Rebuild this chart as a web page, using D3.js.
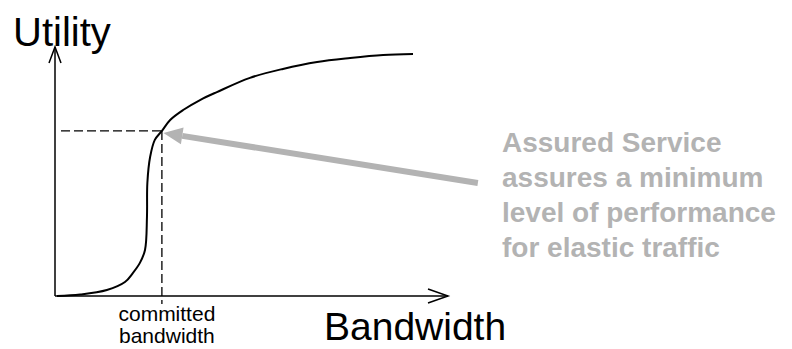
<!DOCTYPE html>
<html><head><meta charset="utf-8">
<script src="https://cdn.jsdelivr.net/npm/d3@7"></script>
<style>body{margin:0;background:#fff}svg{display:block;font-family:"Liberation Sans",Arial,sans-serif}</style>
</head><body><svg id="c" width="792" height="349"></svg>
<script>
// Utility curve (bandwidth, utility) in arbitrary units 0..100
const bandwidth = [0.5, 6.4, 13.2, 17.8, 19.8, 21.6, 22.9, 23.4, 23.5, 24.2, 25.4, 27.2, 29.3, 32.6, 36.9, 41.2, 49.6, 58.0, 66.7, 75.1, 83.5, 91.1];
const utility   = [0, 0.6, 2.4, 5.6, 9.2, 13.3, 18.5, 31.7, 45.4, 55.8, 62.7, 66.3, 70.7, 74.7, 78.7, 81.9, 87.6, 91.2, 94.0, 95.6, 96.8, 97.2];
const committed = {bandwidth: 27.2, utility: 66.3};
const arrowFrom = {bandwidth: 107.6, utility: 45.4};
const arrowTo   = {bandwidth: 27.6, utility: 65.5};
const noteLines = ["Assured Service", "assures a minimum", "level of performance", "for elastic traffic"];
const axisLabels = {x: "Bandwidth", y: "Utility"};
const tickLabelLines = ["committed", "bandwidth"];

const svg = d3.select("#c");
const x = d3.scaleLinear().domain([0, 100]).range([55, 448]);
const y = d3.scaleLinear().domain([0, 100]).range([296, 47]);

// axes
svg.append("line").attr("x1", x(0)).attr("y1", y(0)).attr("x2", x(100)).attr("y2", y(0))
  .attr("stroke", "#000").attr("stroke-width", 1.5);
svg.append("line").attr("x1", x(0)).attr("y1", y(0)).attr("x2", x(0)).attr("y2", y(100))
  .attr("stroke", "#000").attr("stroke-width", 1.5);
// open arrowheads
svg.append("path").attr("d", `M${x(100)-20},${y(0)-7}L${x(100)},${y(0)}L${x(100)-20},${y(0)+7}`)
  .attr("fill", "none").attr("stroke", "#000").attr("stroke-width", 1.5);
svg.append("path").attr("d", `M${x(0)-6},${y(100)+16}L${x(0)},${y(100)}L${x(0)+6},${y(100)+16}`)
  .attr("fill", "none").attr("stroke", "#000").attr("stroke-width", 1.5);

// dashed guides
svg.append("line").attr("x1", x(0) + 6).attr("y1", y(committed.utility))
  .attr("x2", x(committed.bandwidth)).attr("y2", y(committed.utility))
  .attr("stroke", "#000").attr("stroke-width", 1.3).attr("stroke-dasharray", "9,4");
svg.append("line").attr("x1", x(committed.bandwidth)).attr("y1", y(committed.utility))
  .attr("x2", x(committed.bandwidth)).attr("y2", y(0) + 8)
  .attr("stroke", "#000").attr("stroke-width", 1.3).attr("stroke-dasharray", "9,4");

// curve
const pts = bandwidth.map((b, i) => [b, utility[i]]);
svg.append("path").datum(pts)
  .attr("d", d3.line().x(d => x(d[0])).y(d => y(d[1])).curve(d3.curveCatmullRom.alpha(0.5)))
  .attr("fill", "none").attr("stroke", "#000").attr("stroke-width", 2);

// gray annotation arrow
const gx1 = x(arrowFrom.bandwidth), gy1 = y(arrowFrom.utility);
const gx2 = x(arrowTo.bandwidth), gy2 = y(arrowTo.utility);
const ang = Math.atan2(gy2 - gy1, gx2 - gx1);
const hl = 19, hw = 8.5;
const bx = gx2 - hl * Math.cos(ang), by = gy2 - hl * Math.sin(ang);
svg.append("line").attr("x1", gx1).attr("y1", gy1).attr("x2", bx).attr("y2", by)
  .attr("stroke", "#b3b3b3").attr("stroke-width", 6);
svg.append("path").attr("d",
  `M${gx2},${gy2}L${bx + hw * Math.sin(ang)},${by - hw * Math.cos(ang)}L${bx - hw * Math.sin(ang)},${by + hw * Math.cos(ang)}Z`)
  .attr("fill", "#b3b3b3");

// texts
svg.append("text").attr("x", 13).attr("y", 46).attr("font-size", 40).attr("fill", "#000").text(axisLabels.y);
svg.append("text").attr("x", 324).attr("y", 340).attr("font-size", 39).attr("fill", "#000").text(axisLabels.x);
tickLabelLines.forEach((t, i) => {
  svg.append("text").attr("x", x(committed.bandwidth) + 5).attr("y", 321 + i * 22)
    .attr("text-anchor", "middle").attr("font-size", 21).attr("fill", "#000").text(t);
});
noteLines.forEach((t, i) => {
  svg.append("text").attr("x", 502).attr("y", 152 + i * 35)
    .attr("font-size", 28).attr("font-weight", "bold").attr("fill", "#b3b3b3").text(t);
});
</script></body></html>
